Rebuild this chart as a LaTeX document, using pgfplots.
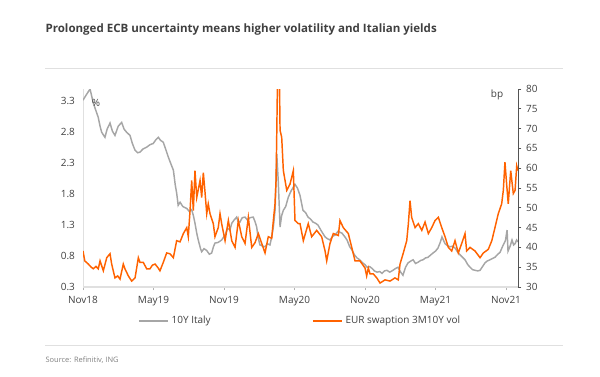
\documentclass[border=0pt]{standalone}
\usepackage{fontspec}
\setmainfont{Open Sans}
\usepackage{pgfplots}
\pgfplotsset{compat=1.18}
\definecolor{inggray}{HTML}{A6A6A6}
\definecolor{ingorange}{HTML}{FF6200}
\definecolor{txt}{HTML}{404040}
\definecolor{sep}{HTML}{E0E0E0}
\begin{document}
\begin{tikzpicture}
\path[use as bounding box] (0,0) rectangle (450pt,-282pt);
\node[anchor=base west, font=\fontsize{8.65pt}{10pt}\selectfont\bfseries, text=txt, inner sep=0] at (34pt,-24pt) {Prolonged ECB uncertainty means higher volatility and Italian yields};
\draw[sep, line width=0.6pt] (34pt,-51pt) -- (422pt,-51pt);
\draw[sep, line width=0.6pt] (34pt,-259pt) -- (422pt,-259pt);
\node[anchor=base west, font=\fontsize{5.6pt}{7pt}\selectfont, text=gray, inner sep=0] at (34pt,-272pt) {Source: Refinitiv, ING};

\pgfplotsset{
  base/.style={
    at={(62.25pt,-215.25pt)}, anchor=south west, scale only axis,
    width=326.25pt, height=148.5pt,
    xmin=0, xmax=37.02,
    tick label style={font=\fontsize{7.5pt}{9pt}\selectfont, text=txt},
    /pgf/number format/assume math mode=true,
    axis line style={-},
  }
}

\begin{axis}[base,
  ymin=0.3, ymax=3.5,
  axis x line*=bottom, axis y line*=left,
  x axis line style={draw=sep, line width=0.8pt},
  y axis line style={draw=sep, line width=0.6pt},
  xtick={0,6,12,18,24,30,36},
  xticklabels={Nov18,May19,Nov19,May20,Nov20,May21,Nov21},
  x tick style={draw=gray!60, line width=0.5pt},
  tick align=outside, major tick length=2.5pt,
  ytick={0.3,0.8,1.3,1.8,2.3,2.8,3.3},
  y tick style={draw=none},
  yticklabel style={/pgf/number format/fixed, /pgf/number format/fixed zerofill, /pgf/number format/precision=1},
  xticklabel style={yshift=-1pt},
]
\addplot[inggray, line width=1.1pt] coordinates {
(0,3.32) (0.26,3.40) (0.60,3.50) (0.88,3.27) (1.10,3.15) (1.30,3.04) (1.45,2.90) (1.59,2.80) (1.87,2.72) (2.05,2.85) (2.30,2.95) (2.50,2.82) (2.72,2.75)
(3.0,2.90) (3.29,2.96) (3.50,2.85) (3.72,2.80) (4.00,2.75) (4.20,2.62) (4.43,2.51) (4.65,2.47) (4.85,2.48) (5.10,2.53) (5.42,2.56) (5.70,2.60) (5.98,2.62)
(6.20,2.68) (6.41,2.72) (6.60,2.67) (6.83,2.64) (7.05,2.52) (7.26,2.40) (7.50,2.28) (7.69,2.19) (7.85,1.95) (7.97,1.82) (8.10,1.62) (8.26,1.67) (8.50,1.60) (8.83,1.57)
(9.05,1.52) (9.25,1.55) (9.40,1.45) (9.53,1.33) (9.70,1.15) (9.81,1.06) (10.0,0.92) (10.10,0.87) (10.30,0.92) (10.53,0.89) (10.75,0.83) (10.95,0.85)
(11.10,0.95) (11.23,1.01) (11.50,1.02) (11.80,1.06) (12.09,1.14) (12.30,1.25) (12.50,1.22) (12.66,1.33) (12.85,1.38) (13.08,1.43) (13.20,1.36) (13.36,1.35)
(13.55,1.42) (13.79,1.43) (14.0,1.38) (14.20,1.42) (14.49,1.43) (14.65,1.35) (14.78,1.27) (14.90,1.10) (15.06,0.98) (15.30,0.96) (15.49,0.95) (15.70,1.00) (15.91,0.98)
(16.05,1.10) (16.20,1.27) (16.35,1.55) (16.49,2.45) (16.62,2.00) (16.77,1.27) (16.90,1.45) (17.05,1.54) (17.25,1.60) (17.47,1.75) (17.70,1.85) (18.04,1.96) (18.25,1.90)
(18.47,1.78) (18.72,1.54) (18.95,1.50) (19.15,1.43) (19.35,1.40) (19.57,1.35) (19.80,1.33) (20.00,1.30) (20.30,1.20) (20.60,1.11) (20.80,1.08) (21.02,1.06)
(21.25,1.12) (21.45,1.14) (21.70,1.20) (22.04,1.17) (22.25,1.12) (22.47,1.06) (22.70,0.95) (22.89,0.90) (23.10,0.82) (23.32,0.77) (23.55,0.74) (23.74,0.70)
(24.0,0.66) (24.17,0.62) (24.40,0.63) (24.60,0.60) (24.80,0.56) (25.02,0.54) (25.25,0.55) (25.45,0.52) (25.65,0.56) (25.87,0.57) (26.10,0.54) (26.38,0.57)
(26.60,0.60) (26.81,0.62) (27.0,0.55) (27.23,0.49) (27.45,0.62) (27.66,0.69) (27.90,0.72) (28.09,0.74) (28.30,0.68) (28.51,0.70) (28.75,0.73) (28.94,0.74)
(29.15,0.77) (29.36,0.78) (29.60,0.82) (29.79,0.85) (30.0,0.88) (30.21,0.93) (30.40,1.02) (30.55,1.11) (30.81,1.00) (31.00,0.97) (31.23,0.95) (31.45,0.96)
(31.66,0.93) (31.90,0.86) (32.09,0.82) (32.30,0.78) (32.51,0.74) (32.75,0.66) (32.94,0.62) (33.15,0.58) (33.36,0.57) (33.60,0.56) (33.79,0.57) (34.0,0.63)
(34.21,0.69) (34.40,0.72) (34.64,0.74) (34.85,0.76) (35.06,0.78) (35.30,0.83) (35.49,0.86) (35.74,0.97) (35.95,1.05) (36.09,1.22) (36.17,0.88) (36.35,0.96)
(36.51,1.06) (36.65,0.98) (36.77,1.00) (36.90,1.06) (37.02,1.03)
};
\node[font=\fontsize{7.5pt}{9pt}\selectfont, text=txt] at (rel axis cs:0.03,0.93) {\%};
\end{axis}

\begin{axis}[base,
  ymin=30, ymax=80,
  axis x line=none, axis y line*=right,
  y axis line style={draw=txt!90, line width=0.6pt},
  ytick={30,35,...,80},
  y tick style={draw=txt!90, line width=0.6pt},
  tick align=outside, major tick length=2.5pt,
  legend style={at={(rel axis cs:0.50,-0.172)}, anchor=center, draw=none, fill=none,
    font=\fontsize{7.5pt}{9pt}\selectfont, text=txt, legend columns=2,
    /tikz/every even column/.append style={column sep=74pt}},
  legend image code/.code={\draw[#1] (0pt,0pt) -- (22pt,0pt);},
]
\addlegendimage{inggray, line width=1.1pt}
\addlegendentry{10Y Italy}
\addplot[ingorange, line width=1.1pt] coordinates {
(0,39.1) (0.15,36.6) (0.45,35.8) (0.70,35.0) (0.88,34.6) (1.10,35.2) (1.30,34.6) (1.45,36.6) (1.73,34.1) (2.02,37.4) (2.30,38.4) (2.44,35.8) (2.72,32.3)
(2.95,32.8) (3.15,32.0) (3.43,35.8) (3.57,34.6) (3.86,32.8) (4.14,31.5) (4.43,32.3) (4.71,37.4) (4.85,36.2) (5.13,36.2) (5.42,34.6) (5.70,34.6) (5.90,35.5)
(6.13,35.8) (6.35,35.0) (6.55,34.1) (6.83,36.2) (7.12,38.6) (7.40,38.4) (7.69,37.4) (7.97,41.7) (8.26,41.4) (8.54,43.5) (8.83,45.0) (8.96,42.7) (9.11,49.3)
(9.25,56.9) (9.39,49.3) (9.53,59.4) (9.68,52.6) (9.96,56.9) (10.10,52.6) (10.24,58.9) (10.38,54.1) (10.53,48.5) (10.66,51.0) (10.81,48.5) (11.09,46.0)
(11.23,42.7) (11.51,45.0) (11.66,48.5) (11.80,46.0) (12.09,41.7) (12.37,46.8) (12.66,41.7) (12.94,40.0) (13.22,46.8) (13.51,42.7) (13.79,41.0) (14.07,47.6)
(14.36,40.0) (14.64,41.2) (14.92,43.5) (15.21,41.0) (15.49,38.6) (15.77,42.7) (16.06,42.3) (16.20,46.8) (16.34,51.0) (16.43,56.9) (16.49,68.8) (16.55,82)
(16.72,82) (16.77,69.6) (16.91,67.8) (17.05,59.4) (17.34,54.4) (17.62,56.0) (17.90,59.4) (18.04,46.8) (18.33,46.0) (18.47,46.0) (18.75,41.7) (19.17,46.0)
(19.46,42.7) (19.89,44.3) (20.31,42.7) (20.60,39.1) (20.74,36.6) (21.02,41.0) (21.30,43.5) (21.73,43.0) (21.87,46.8) (22.15,45.0) (22.58,43.5) (22.87,40.0)
(23.15,36.6) (23.57,36.6) (24.00,34.8) (24.14,32.8) (24.28,34.8) (24.43,33.3) (24.71,33.3) (25.00,32.3) (25.28,31.0) (25.70,31.8) (26.13,31.5) (26.55,32.3)
(26.83,31.8) (26.98,35.8) (27.26,38.6) (27.55,41.7) (27.69,46.0) (27.83,51.8) (27.97,47.6) (28.26,45.0) (28.54,46.0) (28.83,44.3) (29.11,46.4) (29.39,43.5)
(29.68,45.0) (29.96,46.8) (30.24,47.6) (30.53,45.0) (30.81,42.7) (31.09,40.0) (31.38,39.1) (31.66,41.7) (31.94,38.6) (32.23,41.0) (32.51,43.5) (32.65,39.1)
(32.94,40.0) (33.36,39.1) (33.79,37.4) (34.07,38.6) (34.49,39.5) (34.79,41.7) (35.06,45.0) (35.34,48.5) (35.63,51.0) (35.77,54.4) (35.91,61.5) (36.06,55.7)
(36.19,51.0) (36.40,59.4) (36.62,53.6) (36.77,54.4) (36.91,60.6) (37.02,59.4)
};
\addlegendentry{EUR swaption 3M10Y vol}
\node[font=\fontsize{7.5pt}{9pt}\selectfont, text=txt] at (rel axis cs:0.952,0.97) {bp};
\end{axis}
\end{tikzpicture}
\end{document}
